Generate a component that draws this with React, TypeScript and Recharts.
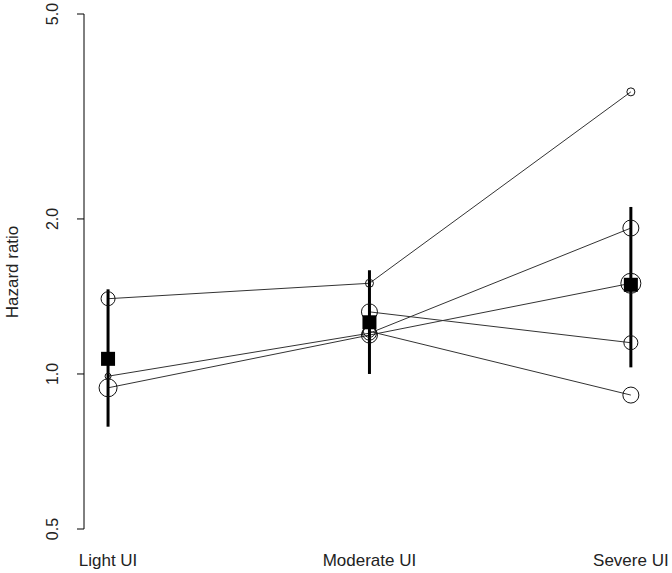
import React from 'react';
import { ComposedChart, Line, XAxis, YAxis, ErrorBar } from 'recharts';

// values (hazard ratios, log axis)
const categories = ['Light UI', 'Moderate UI', 'Severe UI'];
const studyA = [1.4, 1.5, 3.53];
const studyB = [0.99, 1.2, 1.92];
const studyC = [0.94, 1.19, 1.5];
const studyD = [null, 1.32, 1.15];
const studyE = [null, 1.21, 0.91];

// relative study weights (drawn as circle size)
const weightA = [7, 4, 4];
const weightB = [3, 7, 8];
const weightC = [9, 8, 10];
const weightD = [0, 8, 7];
const weightE = [0, 6, 8];

const pooledHR = [1.07, 1.26, 1.49];
const pooledLow = [0.79, 1.0, 1.03];
const pooledHigh = [1.46, 1.59, 2.11];

const yTicks = [0.5, 1.0, 2.0, 5.0];

const studies = [
  { key: 'a', values: studyA, weights: weightA },
  { key: 'b', values: studyB, weights: weightB },
  { key: 'c', values: studyC, weights: weightC },
  { key: 'd', values: studyD, weights: weightD },
  { key: 'e', values: studyE, weights: weightE },
];

const rows = categories.map((cat, i) => {
  const row: any = { x: i, cat };
  studies.forEach((s) => {
    row[s.key] = s.values[i];
  });
  row.pooled = pooledHR[i];
  row.ci = [pooledHR[i] - pooledLow[i], pooledHigh[i] - pooledHR[i]];
  return row;
});

const FONT = '"Liberation Sans", Arial, sans-serif';

const XTick = (props: any) => {
  const { x, y, payload } = props;
  return (
    <text x={x} y={y + 37} textAnchor="middle" fontFamily={FONT} fontSize={17} fill="#222">
      {categories[payload.value]}
    </text>
  );
};

const YTick = (props: any) => {
  const { x, y, payload } = props;
  return (
    <text
      x={0}
      y={0}
      transform={`translate(${x - 19},${y}) rotate(-90)`}
      textAnchor="middle"
      fontFamily={FONT}
      fontSize={16}
      fill="#222"
    >
      {payload.value.toFixed(1)}
    </text>
  );
};

const YTitle = () => (
  <text
    x={0}
    y={0}
    transform="translate(18,272) rotate(-90)"
    textAnchor="middle"
    fontFamily={FONT}
    fontSize={17}
    fill="#222"
  >
    Hazard ratio
  </text>
);

const makeDot = (weights: number[]) => (props: any) => {
  const { cx, cy, index, value } = props;
  if (cx == null || cy == null || value == null) return <g key={`e-${index}`} />;
  return (
    <circle key={`d-${index}`} cx={cx} cy={cy} r={weights[index]} fill="none" stroke="#111" strokeWidth={1} />
  );
};

const SquareDot = (props: any) => {
  const { cx, cy, index } = props;
  if (cx == null || cy == null) return <g key={`s-${index}`} />;
  return <rect key={`s-${index}`} x={cx - 7} y={cy - 7} width={14} height={14} fill="#000" />;
};

export default function App() {
  return (
    <div style={{ position: 'absolute', left: 0, top: 0, width: 672, height: 573, background: '#fff' }}>
      <ComposedChart width={672} height={573} data={rows} margin={{ top: 14, right: 15, left: 2, bottom: 0 }}>
        <XAxis
          type="number"
          dataKey="x"
          domain={[-0.092, 2.1]}
          ticks={[0, 1, 2]}
          allowDataOverflow
          axisLine={false}
          tickLine={false}
          tickSize={0}
          tickMargin={0}
          height={44}
          tick={XTick}
        />
        <YAxis
          scale="log"
          domain={[0.5, 5]}
          ticks={yTicks}
          allowDataOverflow
          width={82}
          axisLine={{ stroke: '#000' }}
          tickLine={{ stroke: '#000' }}
          tickSize={7}
          tickMargin={0}
          tick={YTick}
          label={<YTitle />}
        />
        {studies.map((s) => (
          <Line
            key={s.key}
            dataKey={s.key}
            type="linear"
            stroke="#333"
            strokeWidth={1}
            dot={makeDot(s.weights)}
            activeDot={false}
            isAnimationActive={false}
          />
        ))}
        <Line
          dataKey="pooled"
          stroke="none"
          dot={SquareDot}
          activeDot={false}
          isAnimationActive={false}
        >
          <ErrorBar dataKey="ci" width={0} stroke="#000" strokeWidth={3} direction="y" />
        </Line>
      </ComposedChart>
    </div>
  );
}
